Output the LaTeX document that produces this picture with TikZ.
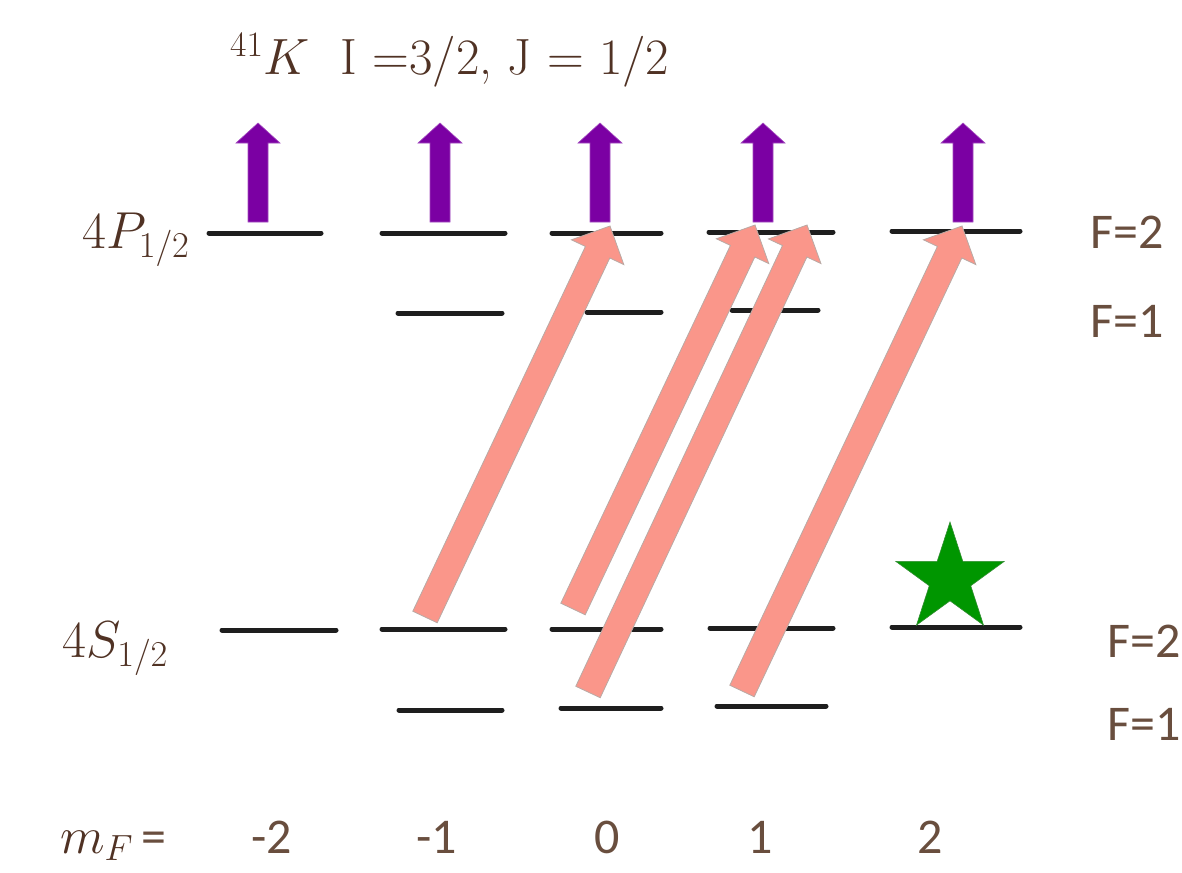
\RequirePackage{fix-cm}
\documentclass[tikz,border=0pt]{standalone}
\usepackage{fontspec}
\newfontfamily\carlito{Carlito}
\usetikzlibrary{calc}
\definecolor{lvlc}{RGB}{30,30,30}
\definecolor{pumpv}{RGB}{123,0,163}
\definecolor{pinkf}{RGB}{250,150,138}
\definecolor{pinke}{RGB}{185,170,165}
\definecolor{starg}{RGB}{0,150,0}
\definecolor{txtb}{RGB}{80,50,36}
\definecolor{txtl}{RGB}{105,78,62}
\tikzset{
  levelline/.style={draw=lvlc, line width=5pt, line cap=round},
  serifbig/.style={text=txtb, font=\fontsize{51}{58}\selectfont, inner sep=0pt},
  seriflab/.style={text=txtb, font=\fontsize{52}{60}\selectfont, inner sep=0pt},
  sansbig/.style={text=txtl, font=\fontsize{50}{58}\selectfont\carlito, inner sep=0pt},
  pumpstyle/.style={fill=pumpv, draw=pumpv!70!white, line width=0.6pt},
  laserstyle/.style={fill=pinkf, draw=pinke, line width=0.8pt, line join=miter},
  starstyle/.style={fill=starg, draw=starg!60!gray, line width=0.6pt},
}
\newcommand{\enlevel}[4]{\draw[levelline] (#2,#4) coordinate (#1-l) -- (#3,#4) coordinate (#1-r);}
\newcommand{\pumparrow}[1]{%
  \fill[pumpstyle] (#1) ++(-10,0) -- ++(0,-79) -- ++(-12,0) -- ++(22,-20) -- ++(22,20) -- ++(-12,0) -- ++(0,79) -- cycle;}
\newcommand{\laserarrow}[2]{%
  \path ($(#2)!29pt!(#1)$) coordinate (lb);
  \filldraw[laserstyle] ($(#1)!13.5pt!90:(#2)$) -- ($(lb)!13.5pt!-90:(#1)$) -- ($(lb)!29pt!-90:(#1)$) -- (#2)
     -- ($(lb)!29pt!90:(#1)$) -- ($(lb)!13.5pt!90:(#1)$) -- ($(#1)!13.5pt!-90:(#2)$) -- cycle;}
\begin{document}
\begin{tikzpicture}[x=1pt,y=-1pt]
\useasboundingbox (0,0) rectangle (1182,872);
% title
\node[serifbig, anchor=base west] (title) at (230,75) {$^{41}K$\ \ I =3/2, J = 1/2};
% 4P levels F=2
\enlevel{P2m}{209}{321}{233}
\enlevel{P2a}{382}{505}{233}
\enlevel{P2b}{552}{661}{233}
\enlevel{P2c}{709}{833}{232}
\enlevel{P2d}{892}{1020}{231}
% 4P levels F=1
\enlevel{P1a}{398}{502}{313}
\enlevel{P1b}{587}{661}{312}
\enlevel{P1c}{732}{818}{310}
% 4S levels F=2
\enlevel{S2m}{222}{336}{630}
\enlevel{S2a}{382}{505}{629}
\enlevel{S2b}{552}{661}{629}
\enlevel{S2c}{710}{833}{628}
\enlevel{S2d}{892}{1020}{627}
% 4S levels F=1
\enlevel{S1a}{399}{502}{710}
\enlevel{S1b}{561}{661}{708}
\enlevel{S1c}{717}{826}{706}
% level labels
\node[seriflab, anchor=base west] (lp) at (82,248) {$4P_{1/2}$};
\node[seriflab, anchor=base west] (ls) at (62,657) {$4S_{1/2}$};
\node[sansbig, anchor=base west] (fp2) at (1090,248) {F=2};
\node[sansbig, anchor=base west] (fp1) at (1090,337) {F=1};
\node[sansbig, anchor=base west] (fs2) at (1107,657) {F=2};
\node[sansbig, anchor=base west] (fs1) at (1107,740) {F=1};
% m_F row
\node[seriflab, anchor=base west] (mf) at (60,853) {$m_F$\,{\fontsize{50}{58}\selectfont\carlito\color{txtl} =}};
\node[sansbig, anchor=base] (mm2) at (272,853) {-2};
\node[sansbig, anchor=base] (mm1) at (437,853) {-1};
\node[sansbig, anchor=base] (m0) at (607,853) {0};
\node[sansbig, anchor=base] (mp1) at (760,853) {1};
\node[sansbig, anchor=base] (mp2) at (930,853) {2};
% pump (sigma) arrows
\coordinate (pa) at (258,222);
\coordinate (pb) at (440,222);
\coordinate (pc) at (600,222);
\coordinate (pd) at (763,222);
\coordinate (pe) at (963,222);
\pumparrow{pa}\pumparrow{pb}\pumparrow{pc}\pumparrow{pd}\pumparrow{pe}
% laser arrows
\coordinate (t1) at (425,617); \coordinate (h1) at (610,226);
\coordinate (t2) at (573,609); \coordinate (h2) at (755,225);
\coordinate (t3) at (588,692); \coordinate (h3) at (807,225);
\coordinate (t4) at (742,691); \coordinate (h4) at (962,226);
\laserarrow{t1}{h1}
\laserarrow{t2}{h2}
\laserarrow{t3}{h3}
\laserarrow{t4}{h4}
% dark state star
\coordinate (sc) at (950,579);
\filldraw[starstyle] (sc) +(90:57pt) \foreach \k in {0,...,4} {-- +({126+72*\k}:21.8pt) -- +({162+72*\k}:57pt)} -- cycle;
\end{tikzpicture}
\end{document}
